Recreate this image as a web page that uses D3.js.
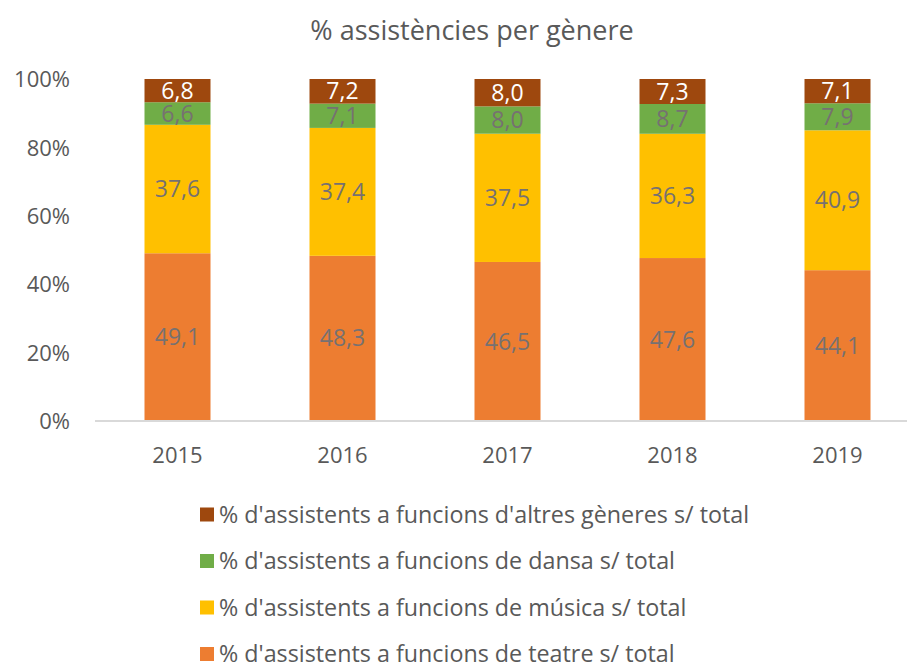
<!DOCTYPE html>
<html>
<head>
<meta charset="utf-8">
<script src="https://cdn.jsdelivr.net/npm/d3@7"></script>
<style>
  html, body { margin: 0; padding: 0; background: #fff; }
  svg { display: block; font-family: "Open Sans", Lato, sans-serif; }
</style>
</head>
<body>
<svg id="chart" width="907" height="667"></svg>
<script>
const years = ["2015", "2016", "2017", "2018", "2019"];
const teatre = [49.1, 48.3, 46.5, 47.6, 44.1];
const musica = [37.6, 37.4, 37.5, 36.3, 40.9];
const dansa = [6.6, 7.1, 8.0, 8.7, 7.9];
const altres = [6.8, 7.2, 8.0, 7.3, 7.1];
const seriesNames = [
  "% d'assistents a funcions de teatre s/ total",
  "% d'assistents a funcions de música s/ total",
  "% d'assistents a funcions de dansa s/ total",
  "% d'assistents a funcions d'altres gèneres s/ total"
];
const seriesColors = ["#ED7D31", "#FFC000", "#70AD47", "#9E480E"];
const labelColors = ["#767171", "#767171", "#767171", "#ffffff"];
const yTicks = [0, 0.2, 0.4, 0.6, 0.8, 1.0];
const title = "% assistències per gènere";

const seriesValues = [teatre, musica, dansa, altres];
const keys = ["teatre", "musica", "dansa", "altres"];
const rows = years.map((y, i) => {
  const r = { year: y };
  keys.forEach((k, j) => r[k] = seriesValues[j][i]);
  return r;
});

const svg = d3.select("#chart");
const x = d3.scaleBand().domain(years).range([95, 920]).paddingInner(0.6).paddingOuter(0.3);
const y = d3.scaleLinear().domain([0, 1]).range([421, 79]);

const stack = d3.stack().keys(keys).offset(d3.stackOffsetExpand);
const stacked = stack(rows);

svg.append("text")
  .attr("x", 472).attr("y", 40)
  .attr("text-anchor", "middle")
  .attr("font-size", 27)
  .attr("fill", "#595959")
  .text(title);

// y axis labels
const yAxis = d3.axisLeft(y).tickValues(yTicks).tickFormat(d3.format(".0%")).tickSize(0).tickPadding(0);
const yg = svg.append("g").attr("transform", "translate(70,0)").call(yAxis);
yg.attr("font-family", null).attr("font-size", null);
yg.select(".domain").remove();
yg.selectAll("text").attr("font-size", 22).attr("fill", "#595959").attr("dy", "0.35em");

// bars
const groups = svg.append("g").selectAll("g").data(stacked).join("g")
  .attr("fill", (d, i) => seriesColors[i]);
groups.selectAll("rect").data(d => d).join("rect")
  .attr("x", d => x(d.data.year))
  .attr("width", x.bandwidth())
  .attr("y", d => y(d[1]))
  .attr("height", d => y(d[0]) - y(d[1]));

// labels
const lg = svg.append("g").selectAll("g").data(stacked).join("g");
lg.each(function(s, i) {
  d3.select(this).selectAll("text").data(s).join("text")
    .attr("x", d => x(d.data.year) + x.bandwidth() / 2)
    .attr("y", d => (y(d[0]) + y(d[1])) / 2)
    .attr("dy", "0.35em")
    .attr("text-anchor", "middle")
    .attr("font-size", 23)
    .attr("fill", labelColors[i])
    .text(d => d3.format(".1f")(d.data[keys[i]]).replace(".", ","));
});

// x axis
const xAxis = d3.axisBottom(x).tickSize(0).tickPadding(0);
const xg = svg.append("g").attr("transform", "translate(0,421)").call(xAxis);
xg.attr("font-family", null).attr("font-size", null);
xg.select(".domain").attr("stroke", "#D9D9D9").attr("stroke-width", 2).attr("d", "M95,0H907");
xg.selectAll("text").attr("font-size", 22).attr("fill", "#595959").attr("y", 42).attr("dy", null);

// legend
const legendOrder = [3, 2, 1, 0];
const leg = svg.append("g").selectAll("g").data(legendOrder).join("g")
  .attr("transform", (d, i) => `translate(200,${522.5 + i * 46.5})`);
leg.append("rect").attr("x", 0).attr("y", -15).attr("width", 14).attr("height", 14)
  .attr("fill", d => seriesColors[d]);
leg.append("text").attr("x", 19).attr("y", 0)
  .attr("font-size", 23.3).attr("fill", "#595959")
  .text(d => seriesNames[d]);
</script>
</body>
</html>
